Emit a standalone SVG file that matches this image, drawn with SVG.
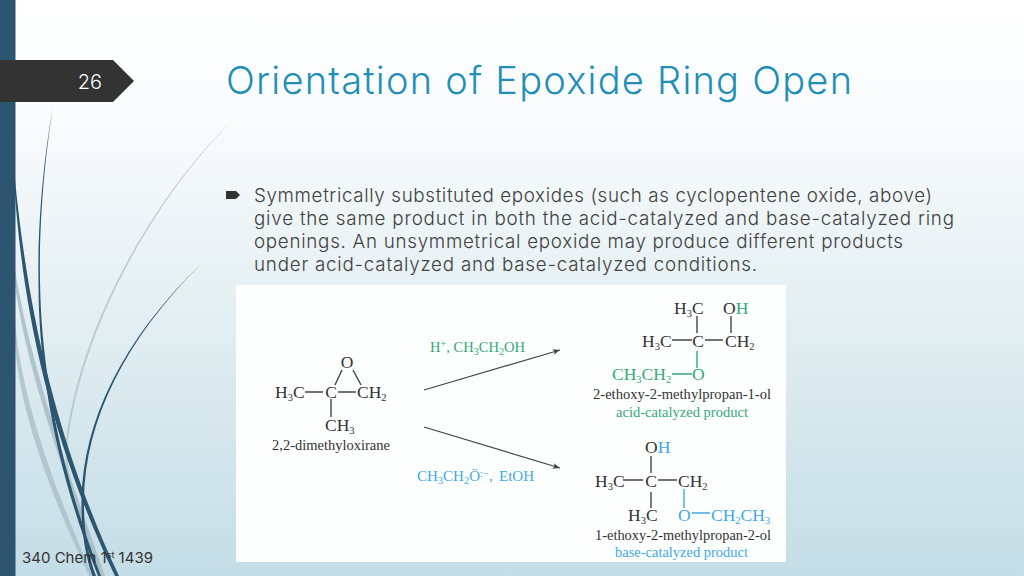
<svg xmlns="http://www.w3.org/2000/svg" width="1024" height="576" viewBox="0 0 1024 576">
<style>
.s{font-family:"Inter","Open Sans",sans-serif;font-variant-ligatures:none}
.title{font-size:38px;fill:#1f8fb8;font-weight:300}
.body{font-size:18.8px;fill:#404040;font-weight:300}
.m{font-family:"Liberation Serif",serif;font-size:17.5px;fill:#333}
.n{font-family:"Liberation Serif",serif;font-size:15px;fill:#333}
.g{fill:#35a87c}
.b{fill:#3fa9e6}
.bond{stroke:#444;stroke-width:1.4;fill:none}
.bg{stroke:#35a87c}
.bb{stroke:#3fa9e6}
.arrow{stroke:#444;stroke-width:1.2;fill:none;marker-end:url(#ah)}
.sub{font-size:10.5px}
</style>
<defs>
<linearGradient id="bgG" x1="0" y1="0" x2="0" y2="1">
<stop offset="0" stop-color="#ffffff"/><stop offset="0.2" stop-color="#fafcfd"/><stop offset="0.5" stop-color="#e6f0f3"/><stop offset="1" stop-color="#c4dde6"/>
</linearGradient>
<marker id="ah" markerWidth="8" markerHeight="8" refX="6" refY="3" orient="auto"><path d="M0,0.6L6,3L0,5.4L1.4,3Z" fill="#444"/></marker>
</defs>
<rect width="1024" height="576" fill="url(#bgG)"/>
<g id="curves">
<path d="M236,117C170,180 85,310 68,440C67,455 68,470 71,490C66,470 65,455 66,440C83,310 168,180 236,117Z" fill="#b4c4c9" opacity="0.85"/>
<path d="M15,270C30,360 60,450 105,576H101C57,455 26,365 15,285Z" fill="#9fb5bd" opacity="0.75"/>
<path d="M15,320C20,390 50,480 93,576H89C46,485 17,400 15,340Z" fill="#a6bcc4" opacity="0.75"/>
<path d="M53,108C44,160 39,230 40,280C41,370 60,470 101,576H98C57,472 38,372 38.500,280C37.500,230 43,160 53,108Z" fill="#2c5570"/>
<path d="M15,180C28,310 55,440 119,576H115C51,442 24,315 15,195Z" fill="#2c5570"/>
<path d="M200,265C125,340 85,420 84,500C83.500,530 88,555 96,576H92.500C85,555 81,530 81.500,500C83,420 123,340 200,265Z" fill="#2c5570"/>
</g>
<rect id="bar" width="15.500" height="576" fill="#2c5570"/>
<g id="slide-number">
<path d="M0,60H113L134,81L113,102H0Z" fill="#333"/>
<text class="s" x="90" y="89" font-size="20" font-weight="300" fill="#fff" text-anchor="middle">26</text>
</g>
<text class="s title" x="226" y="94" textLength="626" lengthAdjust="spacing">Orientation of Epoxide Ring Open</text>
<g id="body">
<path d="M226,191H236L240,195L236,199H226Z" fill="#333"/>
<text class="s body" x="254" y="202" textLength="678" lengthAdjust="spacing">Symmetrically substituted epoxides (such as cyclopentene oxide, above)</text>
<text class="s body" x="254" y="225" textLength="700" lengthAdjust="spacing">give the same product in both the acid-catalyzed and base-catalyzed ring</text>
<text class="s body" x="254" y="248" textLength="649" lengthAdjust="spacing">openings. An unsymmetrical epoxide may produce different products</text>
<text class="s body" x="254" y="271" textLength="503" lengthAdjust="spacing">under acid-catalyzed and base-catalyzed conditions.</text>
</g>
<g id="figure">
<rect x="236" y="285" width="550" height="277" fill="#fdfefe"/>
</g>
<g id="reactant">
<text class="m" x="347" y="368" text-anchor="middle">O</text>
<text class="m" x="275" y="398">H<tspan class="sub" dy="3">3</tspan><tspan dy="-3">C</tspan></text>
<text class="m" x="331" y="398" text-anchor="middle">C</text>
<text class="m" x="357" y="398">CH<tspan class="sub" dy="3">2</tspan></text>
<text class="m" x="325" y="431">CH<tspan class="sub" dy="3">3</tspan></text>
<text class="n" x="272" y="450" textLength="118" lengthAdjust="spacingAndGlyphs">2,2-dimethyloxirane</text>
</g>
<g id="reagent-acid">
<text class="n g" x="430" y="352" textLength="95" lengthAdjust="spacingAndGlyphs">H<tspan class="sub" dy="-5">+</tspan><tspan dy="5">, CH</tspan><tspan class="sub" dy="3">3</tspan><tspan dy="-3">CH</tspan><tspan class="sub" dy="3">2</tspan><tspan dy="-3">OH</tspan></text>
</g>
<g id="reagent-base">
<text class="n b" x="417" y="481">CH<tspan class="sub" dy="3">3</tspan><tspan dy="-3">CH</tspan><tspan class="sub" dy="3">2</tspan><tspan dy="-3">Ö</tspan><tspan class="sub" dy="-4">:</tspan><tspan class="sub">−</tspan><tspan dy="4">,  </tspan><tspan x="499">EtOH</tspan></text>
</g>
<g id="product-acid">
<text class="m" x="674" y="314">H<tspan class="sub" dy="3">3</tspan><tspan dy="-3">C</tspan></text>
<text class="m" x="723" y="314">O<tspan class="g">H</tspan></text>
<text class="m" x="642" y="347">H<tspan class="sub" dy="3">3</tspan><tspan dy="-3">C</tspan></text>
<text class="m" x="698" y="347" text-anchor="middle">C</text>
<text class="m" x="725" y="347">CH<tspan class="sub" dy="3">2</tspan></text>
<text class="m g" x="612" y="380">CH<tspan class="sub" dy="3">3</tspan><tspan dy="-3">CH</tspan><tspan class="sub" dy="3">2</tspan></text>
<text class="m g" x="692" y="380">O</text>
<text class="n" x="593" y="399" textLength="178" lengthAdjust="spacingAndGlyphs">2-ethoxy-2-methylpropan-1-ol</text>
<text class="n g" x="616" y="417" textLength="132" lengthAdjust="spacingAndGlyphs">acid-catalyzed product</text>
</g>
<g id="product-base">
<text class="m" x="645" y="453">O<tspan class="b">H</tspan></text>
<text class="m" x="595" y="487">H<tspan class="sub" dy="3">3</tspan><tspan dy="-3">C</tspan></text>
<text class="m" x="651" y="487" text-anchor="middle">C</text>
<text class="m" x="678" y="487">CH<tspan class="sub" dy="3">2</tspan></text>
<text class="m" x="628" y="521">H<tspan class="sub" dy="3">3</tspan><tspan dy="-3">C</tspan></text>
<text class="m b" x="678" y="521">O</text>
<text class="m b" x="711" y="521">CH<tspan class="sub" dy="3">2</tspan><tspan dy="-3">CH</tspan><tspan class="sub" dy="3">3</tspan></text>
<text class="n" x="595" y="540" textLength="176" lengthAdjust="spacingAndGlyphs">1-ethoxy-2-methylpropan-2-ol</text>
<text class="n b" x="615" y="557" textLength="133" lengthAdjust="spacingAndGlyphs">base-catalyzed product</text>
</g>
<g id="connectors">
<path class="arrow" d="M424,390L560,350"/>
<path class="arrow" d="M424,427L560,468"/>
<path class="bond" d="M305,392H323M338,392H356M331,399V417M342,370L335,385M353,370L361,385"/>
<path class="bond" d="M697,316V333M731,316V333M672,340H692M705,340H723"/>
<path class="bond bg" d="M697,351V368M672,374H692"/>
<path class="bond" d="M651,456V473M623,480H643M658,480H677M651,492V508"/>
<path class="bond bb" d="M684,489V508M692,513H710"/>
</g>
<text id="footer" class="s" x="22" y="563" font-size="15" fill="#333" textLength="131">340 Chem 1<tspan font-size="9" dy="-5">st</tspan><tspan dy="5"> 1439</tspan></text>
</svg>
